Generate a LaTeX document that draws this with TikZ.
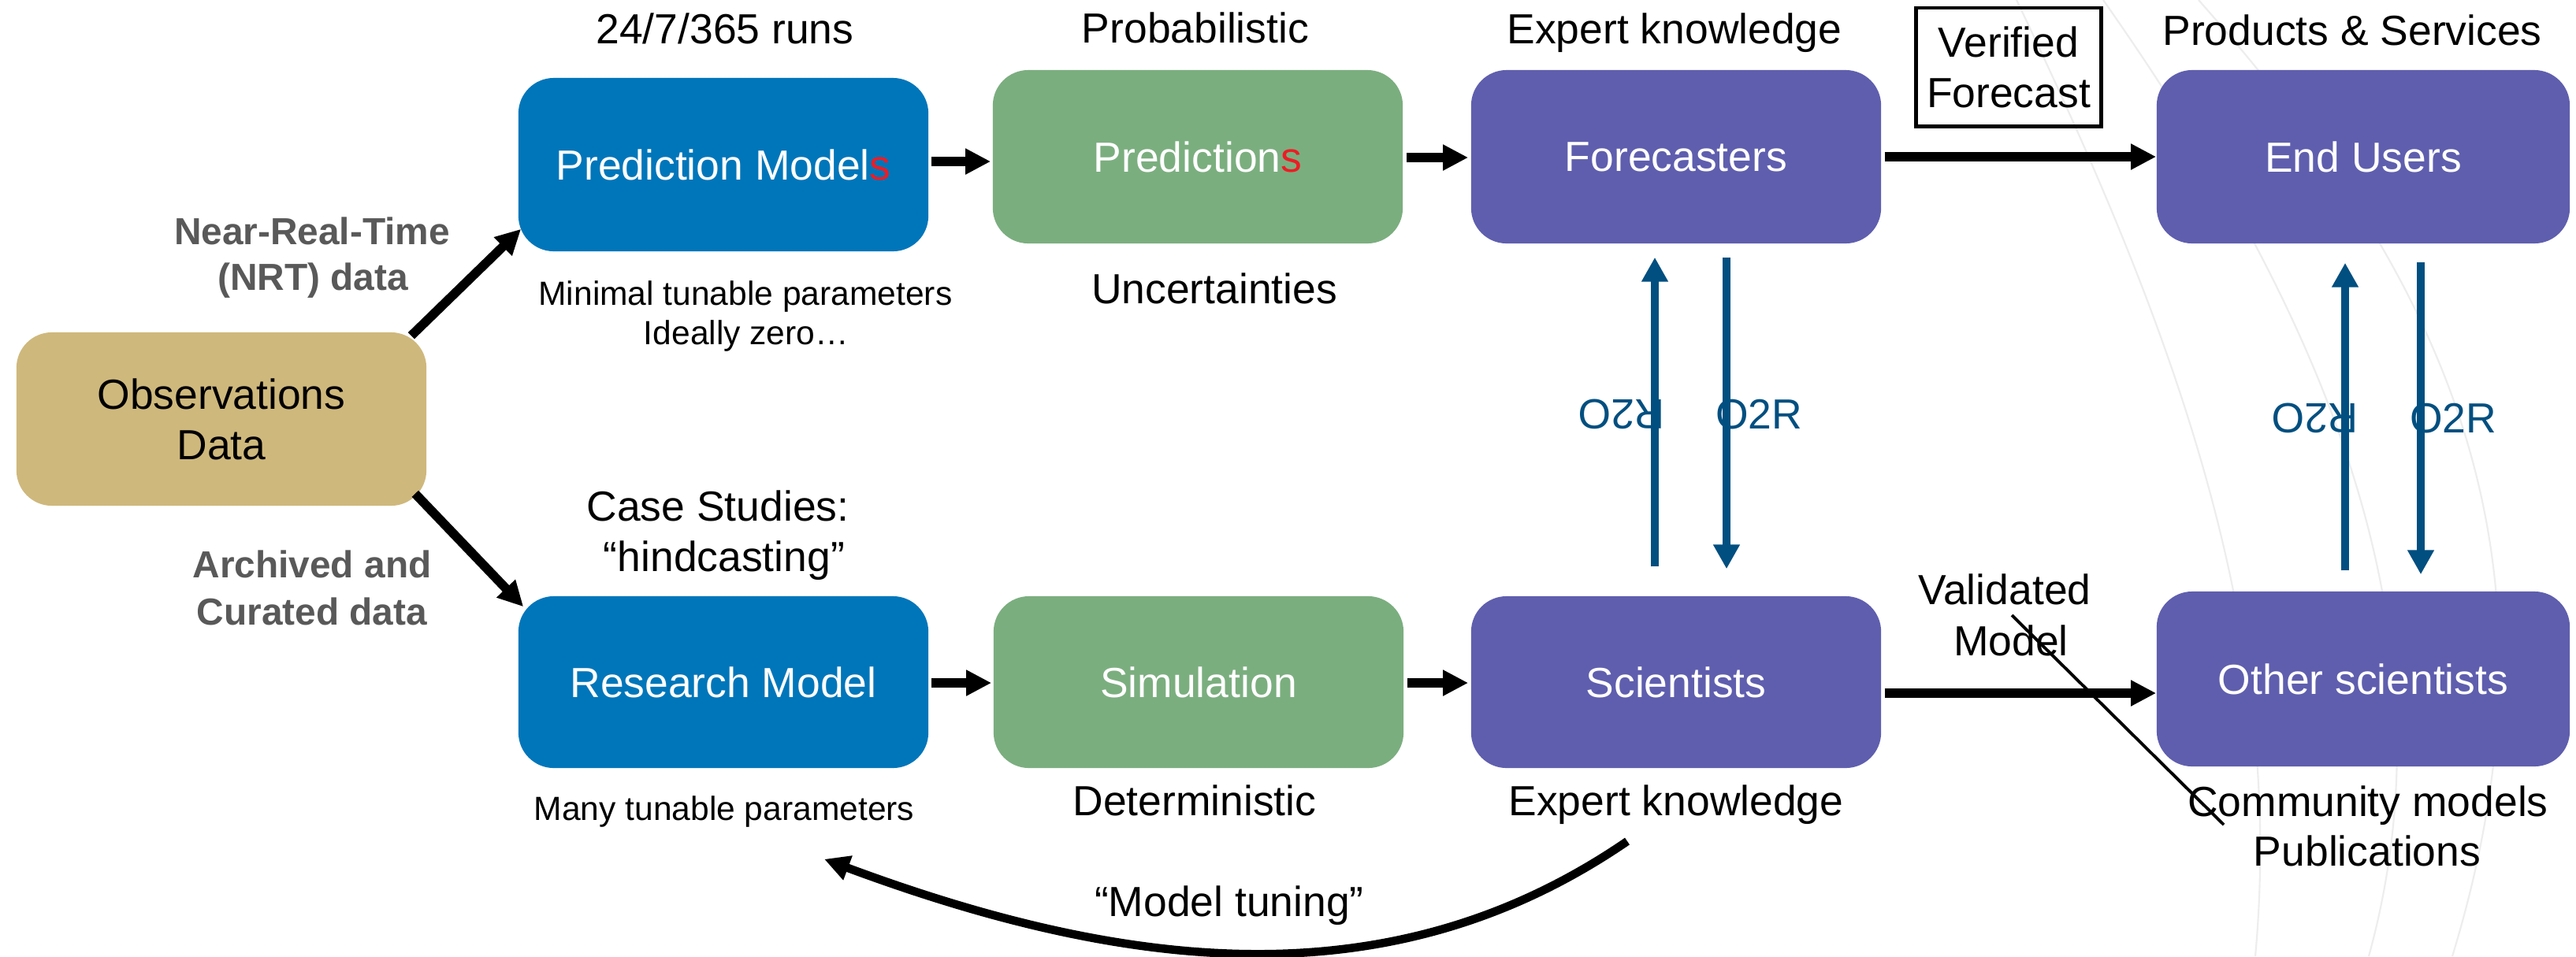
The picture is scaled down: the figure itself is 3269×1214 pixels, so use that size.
\documentclass[tikz,border=0pt]{standalone}
\usepackage{fontspec}
\setmainfont{Liberation Sans}
\usetikzlibrary{arrows.meta,calc}

\definecolor{obsgold}{HTML}{CFB87C}
\definecolor{modelblue}{HTML}{0076BA}
\definecolor{simgreen}{HTML}{7BAE7F}
\definecolor{peoplepurple}{HTML}{5F5EAE}
\definecolor{transferblue}{HTML}{004F80}
\definecolor{notegray}{HTML}{595959}
\definecolor{accentred}{HTML}{ED1C24}
\definecolor{wavegray}{HTML}{EDEDED}

\begin{document}
\begin{tikzpicture}[x=0.01cm, y=-0.01cm,
  box/.style={rounded corners=0.45cm, minimum width=5.2cm, minimum height=2.2cm,
    inner sep=0pt, text=white, align=center, font=\fontsize{15.2}{18.2}\selectfont},
  lbl/.style={anchor=base, inner sep=0pt, font=\fontsize{15.2}{18.2}\selectfont},
  smalllbl/.style={lbl, font=\fontsize{12.1}{14.2}\selectfont},
  notelbl/.style={lbl, text=notegray, font=\fontsize{13.6}{16}\selectfont\bfseries},
  swaplbl/.style={inner sep=0pt, text=transferblue, font=\fontsize{15.2}{18.2}\selectfont},
  flow/.style={line width=3.3pt, -{Triangle[length=9.1pt,width=8.8pt]}},
  transfer/.style={draw=transferblue, line width=3pt, -{Triangle[length=8.8pt,width=9.1pt]}},
  wave/.style={draw=wavegray, line width=0.6pt}
]
% canvas
\useasboundingbox (0,0) rectangle (3269,1214);
\fill[white] (0,0) rectangle (3269,1214);

% faint decorative sweeps in the background
\draw[wave] (2559,0) .. controls (2760,420) and (2900,800) .. (2862,1214);
\draw[wave] (2669,0) .. controls (2950,400) and (3120,800) .. (3006,1214);
\draw[wave] (2790,0) .. controls (3100,350) and (3269,700) .. (3112,1214);

% boxes
\node[box, fill=obsgold, text=black] (obs) at (281,532) {Observations\\Data};
\node[box, fill=modelblue] (pm) at (918,209) {Prediction Model{\color{accentred}s}};
\node[box, fill=simgreen] (pred) at (1520,199) {Prediction{\color{accentred}s}};
\node[box, fill=peoplepurple] (fc) at (2127,199) {Forecasters};
\node[box, fill=peoplepurple, minimum width=5.24cm] (eu) at (2999,199) {End Users};
\node[box, fill=modelblue, minimum height=2.18cm] (rm) at (918,866) {Research Model};
\node[box, fill=simgreen, minimum height=2.18cm] (sim) at (1521,866) {Simulation};
\node[box, fill=peoplepurple, minimum height=2.18cm] (sci) at (2127,866) {Scientists};
\node[box, fill=peoplepurple, minimum width=5.24cm, minimum height=2.22cm] (os) at (2999,862) {Other scientists};

% labels above the top row
\node[lbl] (runs) at (920,55) {24/7/365 runs};
\node[lbl] (prob) at (1517,54) {Probabilistic};
\node[lbl] (expTop) at (2125,55) {Expert knowledge};
\node[lbl] (prod) at (2985,57) {Products \& Services};
\node[draw, line width=1.4pt, inner sep=0pt, minimum width=2.35cm, minimum height=1.5cm,
  align=center, font=\fontsize{15.2}{18.2}\selectfont] (verified) at (2549,85) {Verified\\Forecast};

% data-stream notes
\node[notelbl] (nrtA) at (396,310) {Near-Real-Time};
\node[notelbl] (nrtB) at (397,368) {(NRT) data};
\node[notelbl] (archA) at (396,733) {Archived and};
\node[notelbl] (archB) at (396,793) {Curated data};

% notes around the rows
\node[smalllbl] (minA) at (946,387) {Minimal tunable parameters};
\node[smalllbl] (minB) at (947,437) {Ideally zero…};
\node[lbl] (unc) at (1541,385) {Uncertainties};
\node[lbl] (caseA) at (911,661) {Case Studies:};
\node[lbl] (caseB) at (919,725) {“hindcasting”};
\node[smalllbl] (many) at (919,1041) {Many tunable parameters};
\node[lbl] (det) at (1516,1035) {Deterministic};
\node[lbl] (expBot) at (2127,1035) {Expert knowledge};
\node[lbl] (tune) at (1560,1163) {“Model tuning”};
\node[lbl] (valA) at (2544,767) {Validated};
\node[lbl] (valB) at (2552,832) {Model};
\node[lbl] (comA) at (3005,1036) {Community models};
\node[lbl] (comB) at (3004,1099) {Publications};

% transfer labels
\node[swaplbl, rotate=180] (r2oL) at (2058,526) {R2O};
\node[swaplbl] (o2rL) at (2232,526) {O2R};
\node[swaplbl, rotate=180] (r2oR) at (2938,531) {R2O};
\node[swaplbl] (o2rR) at (3113,531) {O2R};

% main flow
\draw[flow] ([shift={(-20,5)}]obs.north east) -- ([shift={(4,-29)}]pm.south west);
\draw[flow] ([shift={(-15,-16)}]obs.south east) -- ([shift={(7,14)}]rm.north west);
\draw[flow] ([shift={(3,-4)}]pm.east) -- ([shift={(-2,6)}]pred.west);
\draw[flow] ([shift={(4,1)}]pred.east) -- ([shift={(-3,1)}]fc.west);
\draw[flow] ([shift={(4,0)}]fc.east) -- (eu.west);
\draw[flow] ([shift={(3,1)}]rm.east) -- ([shift={(-2,1)}]sim.west);
\draw[flow] ([shift={(4,1)}]sim.east) -- ([shift={(-3,1)}]sci.west);
\draw[flow] ([shift={(4,14)}]sci.east) -- ([shift={(0,18)}]os.west);

% research to operations and back
\draw[transfer] ([shift={(-27,-37)}]sci.north) -- ([shift={(-27,17)}]fc.south);
\draw[transfer] ([shift={(64,17)}]fc.south) -- ([shift={(64,-34)}]sci.north);
\draw[transfer] ([shift={(-23,-26)}]os.north) -- ([shift={(-23,24)}]eu.south);
\draw[transfer] ([shift={(73,23)}]eu.south) -- ([shift={(73,-21)}]os.north);

% model tuning loop
\coordinate (tuneStart) at (2065,1068);
\draw[flow, line width=3pt] (tuneStart) .. controls (1775,1267) and (1447,1240) .. ([shift={(128,115)}]rm.south);

% strike line across the validated model label
\coordinate (strikeA) at (2553,781);
\coordinate (strikeB) at (2822,1047);
\draw[line width=1.1pt] (strikeA) -- (strikeB);
\end{tikzpicture}
\end{document}
